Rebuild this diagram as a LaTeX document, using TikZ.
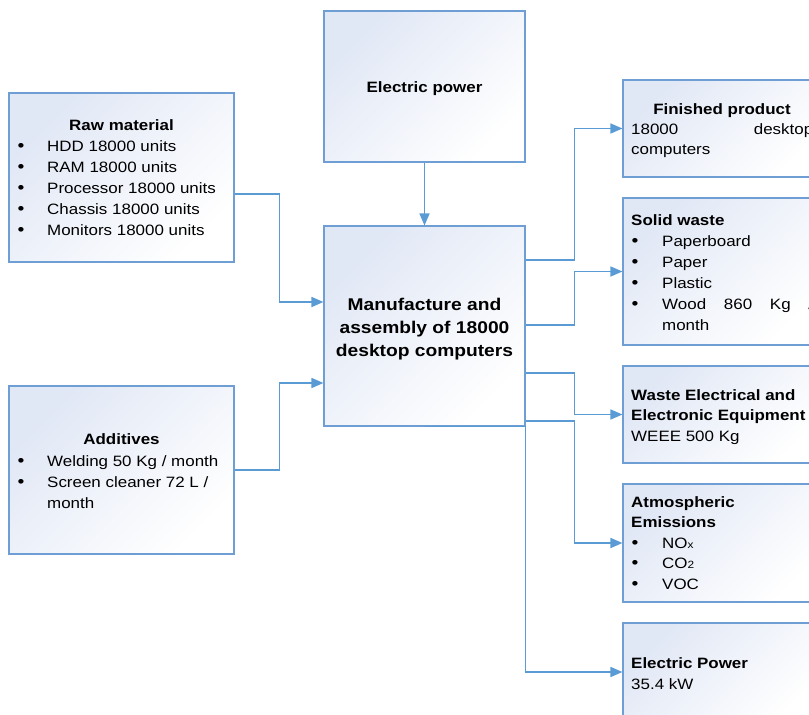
\documentclass[tikz,border=0pt]{standalone}
\usepackage{fontspec}
\setmainfont{Liberation Sans}[FakeStretch=1.13]
\usetikzlibrary{arrows.meta}
\definecolor{bordc}{RGB}{110,158,212}
\definecolor{arrc}{RGB}{91,155,213}
\definecolor{fillc}{RGB}{224,231,245}
\newcommand\bul[2]{\makebox[#1][l]{\hspace{0.5pt}\scalebox{1.15}{\textbullet}}#2\par}
\begin{document}
\begin{tikzpicture}[x=1pt,y=-1pt,
  flowbox/.style={draw=bordc, line width=1.1pt, rectangle, inner sep=0pt,
    top color=fillc, bottom color=white, shading angle=45},
  conn/.style={draw=arrc, line width=1.6pt, -{Triangle[length=12pt,width=10pt]}},
  txt/.style={inner sep=0pt, text=black, font=\fontsize{15}{21}\selectfont},
  txtr/.style={inner sep=0pt, text=black, font=\fontsize{15}{20.5}\selectfont},
  maintxt/.style={inner sep=0pt, text=black, font=\fontsize{17}{23}\selectfont}]
\useasboundingbox (0,0) rectangle (809,715);
\clip (0,0) rectangle (809,715);
% boxes
\node[flowbox, minimum width=225pt, minimum height=169pt] (rm) at (121.5,177.5) {};
\node[flowbox, minimum width=225pt, minimum height=168pt] (add) at (121.5,470) {};
\node[flowbox, minimum width=201pt, minimum height=151pt] (ep) at (424.5,86.5) {};
\node[flowbox, minimum width=201pt, minimum height=200pt] (main) at (424.5,326) {};
\node[flowbox, minimum width=198pt, minimum height=97pt] (fp) at (722,128.5) {};
\node[flowbox, minimum width=198pt, minimum height=147pt] (sw) at (722,271.5) {};
\node[flowbox, minimum width=198pt, minimum height=97pt] (weee) at (722,414.5) {};
\node[flowbox, minimum width=198pt, minimum height=118pt] (atm) at (722,543) {};
\node[flowbox, minimum width=198pt, minimum height=98pt] (epo) at (722,672) {};
% texts
\node[txt, anchor=base] (rmh) at (121.5,130) {\textbf{Raw material}};
\node[txt, anchor=base west] (rml) at (17,151) {\parbox[t]{215pt}{%
  \bul{30pt}{HDD 18000 units}\bul{30pt}{RAM 18000 units}\bul{30pt}{Processor 18000 units}%
  \bul{30pt}{Chassis 18000 units}\bul{30pt}{Monitors 18000 units}}};
\node[txt, anchor=base] (addh) at (121.5,444) {\textbf{Additives}};
\node[txt, anchor=base west] (addl) at (17,466) {\parbox[t]{215pt}{%
  \bul{30pt}{Welding 50 Kg / month}\bul{30pt}{Screen cleaner 72 L /}\hspace*{30pt}month}};
\node[txt, anchor=base] (ept) at (424.5,92) {\textbf{Electric power}};
\node[maintxt, anchor=base] (maint) at (424.5,310) {\parbox[t]{195pt}{\centering\bfseries
  Manufacture and\\assembly of 18000\\desktop computers}};
\node[txt, anchor=base] (fph) at (722,114) {\textbf{Finished product}};
\node[txtr, anchor=base west] (fpl) at (631,134) {\parbox[t]{182pt}{18000\hfill desktop\par computers}};
\node[txt, anchor=base west] (swl) at (631,225) {\parbox[t]{182pt}{\textbf{Solid waste}\par
  \bul{31pt}{Paperboard}\bul{31pt}{Paper}\bul{31pt}{Plastic}%
  \bul{31pt}{Wood\hfill 860\hfill Kg\hfill /}\hspace*{31pt}month}};
\node[txtr, anchor=base west] (weeel) at (631,400) {\parbox[t]{182pt}{\textbf{Waste Electrical and}\par
  \textbf{Electronic Equipment}\par WEEE 500 Kg}};
\node[txtr, anchor=base west] (atml) at (631,507) {\parbox[t]{182pt}{\textbf{Atmospheric}\par
  \textbf{Emissions}\par
  \bul{31pt}{NO{\fontsize{10.5}{10}\selectfont x}}\bul{31pt}{CO{\fontsize{10.5}{10}\selectfont 2}}\bul{31pt}{VOC}}};
\node[txt, anchor=base west] (epol) at (631,668) {\parbox[t]{182pt}{\textbf{Electric Power}\par 35.4 kW}};
% connectors
\draw[conn] (ep.south) -- (main.north);
\draw[conn] ([yshift=-16.5pt]rm.east) -- ++(45,0) |- ([yshift=24pt]main.west);
\draw[conn] (add.east) -- ++(45,0) |- ([yshift=-57pt]main.west);
\draw[conn] ([yshift=66pt]main.east) -- ++(49,0) |- (fp.west);
\draw[conn] ([yshift=1pt]main.east) -- ++(49,0) |- (sw.west);
\draw[conn] ([yshift=-47pt]main.east) -- ++(49,0) |- (weee.west);
\draw[conn] ([yshift=-95pt]main.east) -- ++(49,0) |- (atm.west);
\draw[conn] (main.south) -- (main.south east) |- (epo.west);
\end{tikzpicture}
\end{document}
